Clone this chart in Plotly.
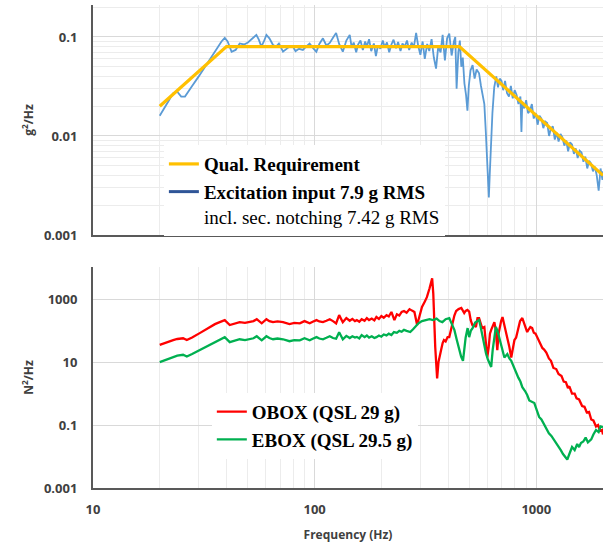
import math
import plotly.graph_objects as go

# ---------------- data ----------------
req_f = [20, 40, 450, 2000]
req_psd = [0.02, 0.08, 0.08, 0.004]

exc_f = [
    20, 21, 22, 23, 24, 25, 26, 27, 28, 30,
    32, 34, 36, 38, 39.3, 40.5, 42.2, 44, 45.9, 48,
    50, 52, 54.6, 56, 57.5, 59, 60.6, 62.5, 64.9, 67,
    69, 72, 74, 77, 79.8, 82, 85, 88.5, 91.5, 94.9,
    98, 101.8, 105, 109, 113, 117, 121, 125, 129, 134,
    139, 144, 147, 150, 154, 157, 161, 165, 169, 172,
    176, 180, 185, 189, 193, 198, 203, 207, 212, 217,
    222, 227, 233, 238, 244, 249, 255, 261, 267, 274,
    280, 287, 293, 300, 307, 314, 322, 329, 337, 345,
    353, 361, 370, 378, 387, 396, 405, 415, 425, 431,
    437, 445, 452, 459, 466, 474, 482, 489, 496, 505,
    516, 527, 538, 552, 563, 574, 583, 592, 600, 606,
    611, 617, 624, 634, 646, 660, 672, 684, 697, 709,
    723, 738, 753, 768, 783, 799, 815, 831, 848, 857,
    865, 882, 900, 918, 936, 955, 974, 994, 1014, 1034,
    1055, 1076, 1098, 1120, 1142, 1165, 1188, 1212, 1236, 1261,
    1286, 1312, 1338, 1365, 1392, 1420, 1449, 1478, 1507, 1537,
    1568, 1600, 1632, 1664, 1698, 1732, 1766, 1802, 1838, 1874,
    1912, 1950, 1989, 2000,
]
exc_psd = [
    0.016, 0.019, 0.023, 0.027, 0.028, 0.025, 0.025, 0.028, 0.032, 0.040,
    0.050, 0.062, 0.076, 0.090, 0.098, 0.090, 0.071, 0.074, 0.086, 0.084,
    0.088, 0.096, 0.105, 0.094, 0.080, 0.090, 0.105, 0.097, 0.083, 0.080,
    0.086, 0.071, 0.074, 0.080, 0.080, 0.072, 0.076, 0.074, 0.080, 0.086,
    0.078, 0.071, 0.085, 0.097, 0.082, 0.087, 0.098, 0.110, 0.085, 0.071,
    0.092, 0.105, 0.078, 0.088, 0.070, 0.084, 0.092, 0.074, 0.090, 0.080,
    0.095, 0.072, 0.086, 0.064, 0.082, 0.076, 0.092, 0.079, 0.088, 0.070,
    0.084, 0.094, 0.077, 0.089, 0.072, 0.086, 0.080, 0.092, 0.074, 0.088,
    0.078, 0.110, 0.082, 0.066, 0.090, 0.060, 0.085, 0.072, 0.095, 0.062,
    0.048, 0.080, 0.070, 0.105, 0.058, 0.097, 0.108, 0.065, 0.090, 0.100,
    0.030, 0.070, 0.092, 0.050, 0.062, 0.034, 0.026, 0.018, 0.032, 0.046,
    0.052, 0.038, 0.047, 0.043, 0.032, 0.024, 0.021, 0.011, 0.005, 0.0028,
    0.0024, 0.0042, 0.009, 0.017, 0.031, 0.040, 0.031, 0.038, 0.036, 0.029,
    0.036, 0.027, 0.025, 0.032, 0.024, 0.029, 0.026, 0.021, 0.025, 0.011,
    0.022, 0.019, 0.023, 0.017, 0.018, 0.021, 0.015, 0.017, 0.013, 0.016,
    0.015, 0.012, 0.014, 0.0135, 0.010, 0.012, 0.0125, 0.0092, 0.0108, 0.0088,
    0.0105, 0.0097, 0.0080, 0.0090, 0.0070, 0.0086, 0.0082, 0.0066, 0.0075, 0.0060,
    0.0071, 0.0068, 0.0055, 0.0062, 0.0047, 0.0056, 0.0053, 0.0044, 0.0049, 0.0040,
    0.0028, 0.0047, 0.0036, 0.0044,
]

obox_f = [
    20, 21, 22, 23, 24, 25.5, 26.5, 28, 30.3, 32,
    33.6, 35.5, 37.3, 39.3, 41.4, 43.5, 45.9, 48.5, 51, 53,
    54.8, 57.7, 60.6, 62.5, 64.9, 68, 72, 74.5, 77, 81,
    85.7, 90, 95, 98, 102, 105, 109, 113, 117, 121,
    125, 129, 134, 139, 144, 148, 152, 155, 159, 163,
    168, 172, 176, 181, 186, 190, 195, 200, 205, 211,
    216, 222, 229, 235, 241, 247, 253, 260, 268, 275,
    282, 290, 297, 305, 313, 321, 330, 339, 343, 346,
    350, 354, 357, 362, 367, 372, 378, 383, 390, 398,
    405, 412, 420, 427, 435, 446, 459, 466, 473, 480,
    489, 498, 506, 515, 523, 534, 543, 552, 560, 570,
    583, 592, 601, 610, 618, 626, 636, 647, 657, 667,
    676, 685, 694, 704, 715, 730, 742, 756, 771, 783,
    797, 811, 827, 845, 865, 880, 895, 910, 925, 940,
    958, 975, 992, 1010, 1030, 1045, 1065, 1085, 1110, 1140,
    1165, 1195, 1230, 1260, 1300, 1330, 1360, 1390, 1410, 1450,
    1490, 1520, 1560, 1610, 1650, 1690, 1730, 1770, 1810, 1860,
    1900, 1940, 1980, 2000,
]
obox_psd = [
    35, 40, 45, 50, 54, 57, 50, 60, 83, 105,
    130, 160, 185, 215, 150, 165, 185, 175, 185, 200,
    230, 170, 230, 200, 185, 195, 185, 175, 160, 175,
    170, 200, 170, 190, 215, 195, 185, 205, 230, 200,
    170, 310, 185, 250, 205, 235, 200, 215, 190, 230,
    205, 250, 215, 240, 210, 270, 235, 290, 255, 310,
    280, 390, 215, 330, 300, 390, 420, 370, 480, 430,
    390, 150, 280, 560, 800, 1150, 2200, 4600, 1500, 215,
    30, 8, 3, 10, 18, 24, 40, 50, 45, 62,
    62, 110, 215, 300, 420, 480, 520, 450, 360, 420,
    450, 400, 215, 150, 150, 130, 250, 250, 170, 120,
    130, 40, 14, 30, 80, 105, 150, 185, 100, 24,
    80, 150, 200, 270, 170, 90, 62, 30, 14, 25,
    50, 60, 120, 200, 250, 180, 140, 90, 110, 130,
    120, 85, 80, 62, 45, 38, 28, 25, 20, 13,
    11, 6.5, 6, 4.2, 3.6, 2.4, 2.3, 1.5, 1.7, 1.0,
    1.0, 0.7, 0.65, 0.4, 0.38, 0.25, 0.26, 0.15, 0.14, 0.09,
    0.1, 0.065, 0.07, 0.05,
]

ebox_f = [
    20, 21, 22, 23, 24, 25.5, 26.5, 28, 30.3, 32,
    33.6, 35.5, 37.3, 39.3, 41.4, 43.5, 45.9, 48.5, 51, 53,
    54.8, 57.7, 60.6, 62.5, 64.9, 68, 72, 74.5, 77, 81,
    85.7, 90, 95, 98, 102, 105, 109, 113, 117, 121,
    125, 129, 134, 139, 144, 148, 152, 155, 159, 163,
    168, 172, 176, 181, 186, 190, 195, 200, 205, 211,
    216, 222, 228, 235, 241, 247, 253, 260, 270, 278,
    286, 294, 305, 317, 330, 342, 355, 366, 377, 390,
    405, 416, 427, 438, 449, 458, 467, 473, 480, 490,
    498, 507, 516, 530, 540, 552, 560, 570, 581, 593,
    605, 616, 626, 636, 647, 657, 668, 680, 698, 718,
    740, 756, 771, 790, 811, 830, 848, 865, 890, 910,
    930, 955, 980, 1005, 1030, 1055, 1080, 1110, 1140, 1170,
    1200, 1230, 1260, 1290, 1320, 1350, 1380, 1410, 1450, 1490,
    1530, 1560, 1590, 1630, 1670, 1710, 1770, 1810, 1860, 1910,
    1950, 2000,
]
ebox_psd = [
    10, 11.5, 13, 15, 16, 17, 15, 18, 24, 30,
    37, 45, 52, 62, 43, 47, 53, 50, 53, 57,
    66, 49, 66, 58, 53, 56, 53, 50, 46, 50,
    49, 57, 49, 55, 62, 56, 53, 59, 66, 58,
    55, 88, 53, 68, 58, 66, 60, 63, 56, 72,
    62, 70, 60, 66, 58, 62, 70, 64, 75, 70,
    80, 72, 90, 85, 98, 92, 105, 98, 90, 110,
    140, 170, 200, 215, 230, 215, 240, 200, 185, 230,
    250, 160, 105, 50, 24, 15, 11, 24, 60, 120,
    62, 100, 120, 180, 200, 215, 140, 72, 35, 19,
    12, 9, 7, 25, 70, 130, 100, 62, 30, 14,
    18, 13, 11, 7, 4.5, 3.2, 2.4, 1.6, 1.2, 0.9,
    0.6, 0.55, 0.5, 0.3, 0.18, 0.15, 0.11, 0.08, 0.055, 0.045,
    0.035, 0.027, 0.02, 0.016, 0.012, 0.01, 0.008, 0.012, 0.02, 0.016,
    0.025, 0.02, 0.027, 0.03, 0.04, 0.028, 0.035, 0.05, 0.07, 0.06,
    0.09, 0.085,
]

top_ticks = [0.001, 0.01, 0.1]
top_ticktext = ["0.001", "0.01", "0.1"]
bot_ticks = [0.001, 0.1, 10, 1000]
bot_ticktext = ["0.001", "0.1", "10", "1000"]
bot_grid = [0.001, 0.01, 0.1, 1, 10, 100, 1000, 10000]
x_ticks = [10, 100, 1000]

# ---------------- figure ----------------
fig = go.Figure()

fig.add_trace(go.Scatter(
    x=exc_f, y=exc_psd, mode="lines", showlegend=False,
    line=dict(color="#5B9BD5", width=1.8), xaxis="x", yaxis="y"
))
fig.add_trace(go.Scatter(
    x=req_f, y=req_psd, mode="lines", name="<b>Qual. Requirement</b>",
    line=dict(color="#FFC000", width=3.2), xaxis="x", yaxis="y",
    legend="legend", legendrank=1
))
# legend entry for the excitation curve (darker swatch as in the reference)
fig.add_trace(go.Scatter(
    x=[None], y=[None], mode="lines",
    name="<b>Excitation input 7.9 g RMS</b><br>incl. sec. notching 7.42 g RMS",
    line=dict(color="#2F5597", width=3), xaxis="x", yaxis="y",
    legend="legend", legendrank=2
))

fig.add_trace(go.Scatter(
    x=obox_f, y=obox_psd, mode="lines", name="<b>OBOX (QSL 29 g)</b>",
    line=dict(color="#FF0000", width=2.3), xaxis="x2", yaxis="y2",
    legend="legend2"
))
fig.add_trace(go.Scatter(
    x=ebox_f, y=ebox_psd, mode="lines", name="<b>EBOX (QSL 29.5 g)</b>",
    line=dict(color="#00B050", width=2.3), xaxis="x2", yaxis="y2",
    legend="legend2"
))

tick_font = dict(family="Open Sans", size=13, color="#404040", weight="bold")
title_font = dict(family="Open Sans", size=12, color="#404040", weight="bold")
minor_grid = dict(dtick="D1", showgrid=True, gridcolor="#ececec", ticks="")
axis_line = dict(showline=True, linecolor="#595959", linewidth=2, ticks="",
                 zeroline=False, tickfont=tick_font)

xr = [1, math.log10(2000)]
legend_font = dict(family="Liberation Serif", size=19, color="black")

fig.update_layout(
    width=603, height=550,
    margin=dict(l=93, r=0, t=5, b=62),
    paper_bgcolor="white", plot_bgcolor="white",
    xaxis=dict(type="log", range=xr, domain=[0, 1], anchor="y",
               showticklabels=False, tickvals=x_ticks, matches="x2",
               showgrid=True, gridcolor="#d9d9d9", minor=minor_grid, **axis_line),
    yaxis=dict(type="log", range=[-3, -0.677], domain=[0.5238, 1], anchor="x",
               tickvals=top_ticks, ticktext=top_ticktext,
               ticklabelstandoff=11,
               showgrid=True, gridcolor="#d9d9d9", minor=minor_grid,
               title=dict(text="g<sup>2</sup>/Hz", standoff=8, font=title_font),
               **axis_line),
    xaxis2=dict(type="log", range=xr, domain=[0, 1], anchor="y2",
                tickvals=x_ticks, ticktext=["10", "100", "1000"],
                ticklabelstandoff=8,
                showgrid=True, gridcolor="#d9d9d9", minor=minor_grid,
                title=dict(text="Frequency (Hz)", standoff=14, font=title_font),
                **axis_line),
    yaxis2=dict(type="log", range=[-3, 4.02], domain=[0, 0.4576], anchor="x2",
                tickvals=bot_ticks, ticktext=bot_ticktext,
                ticklabelstandoff=11, showgrid=True, gridcolor="#d9d9d9",
                title=dict(text="N<sup>2</sup>/Hz", standoff=8, font=title_font),
                **axis_line),
    # grid-only companion axis: gridlines at every decade of the lower panel
    yaxis3=dict(type="log", range=[-3, 4.02], overlaying="y2", anchor="x2",
                tickvals=bot_grid, showticklabels=False, showgrid=True,
                gridcolor="#d9d9d9", minor=minor_grid, showline=False,
                ticks="", zeroline=False),
    legend=dict(x=0.139, y=0.71, xanchor="left", yanchor="top",
                bgcolor="white", valign="top", tracegroupgap=0,
                font=legend_font),
    legend2=dict(x=0.233, y=0.197, xanchor="left", yanchor="top",
                 bgcolor="white", tracegroupgap=0, font=legend_font),
)

fig.write_html("out.html", config={"displayModeBar": False},
               post_script="document.body.style.margin='0';")
